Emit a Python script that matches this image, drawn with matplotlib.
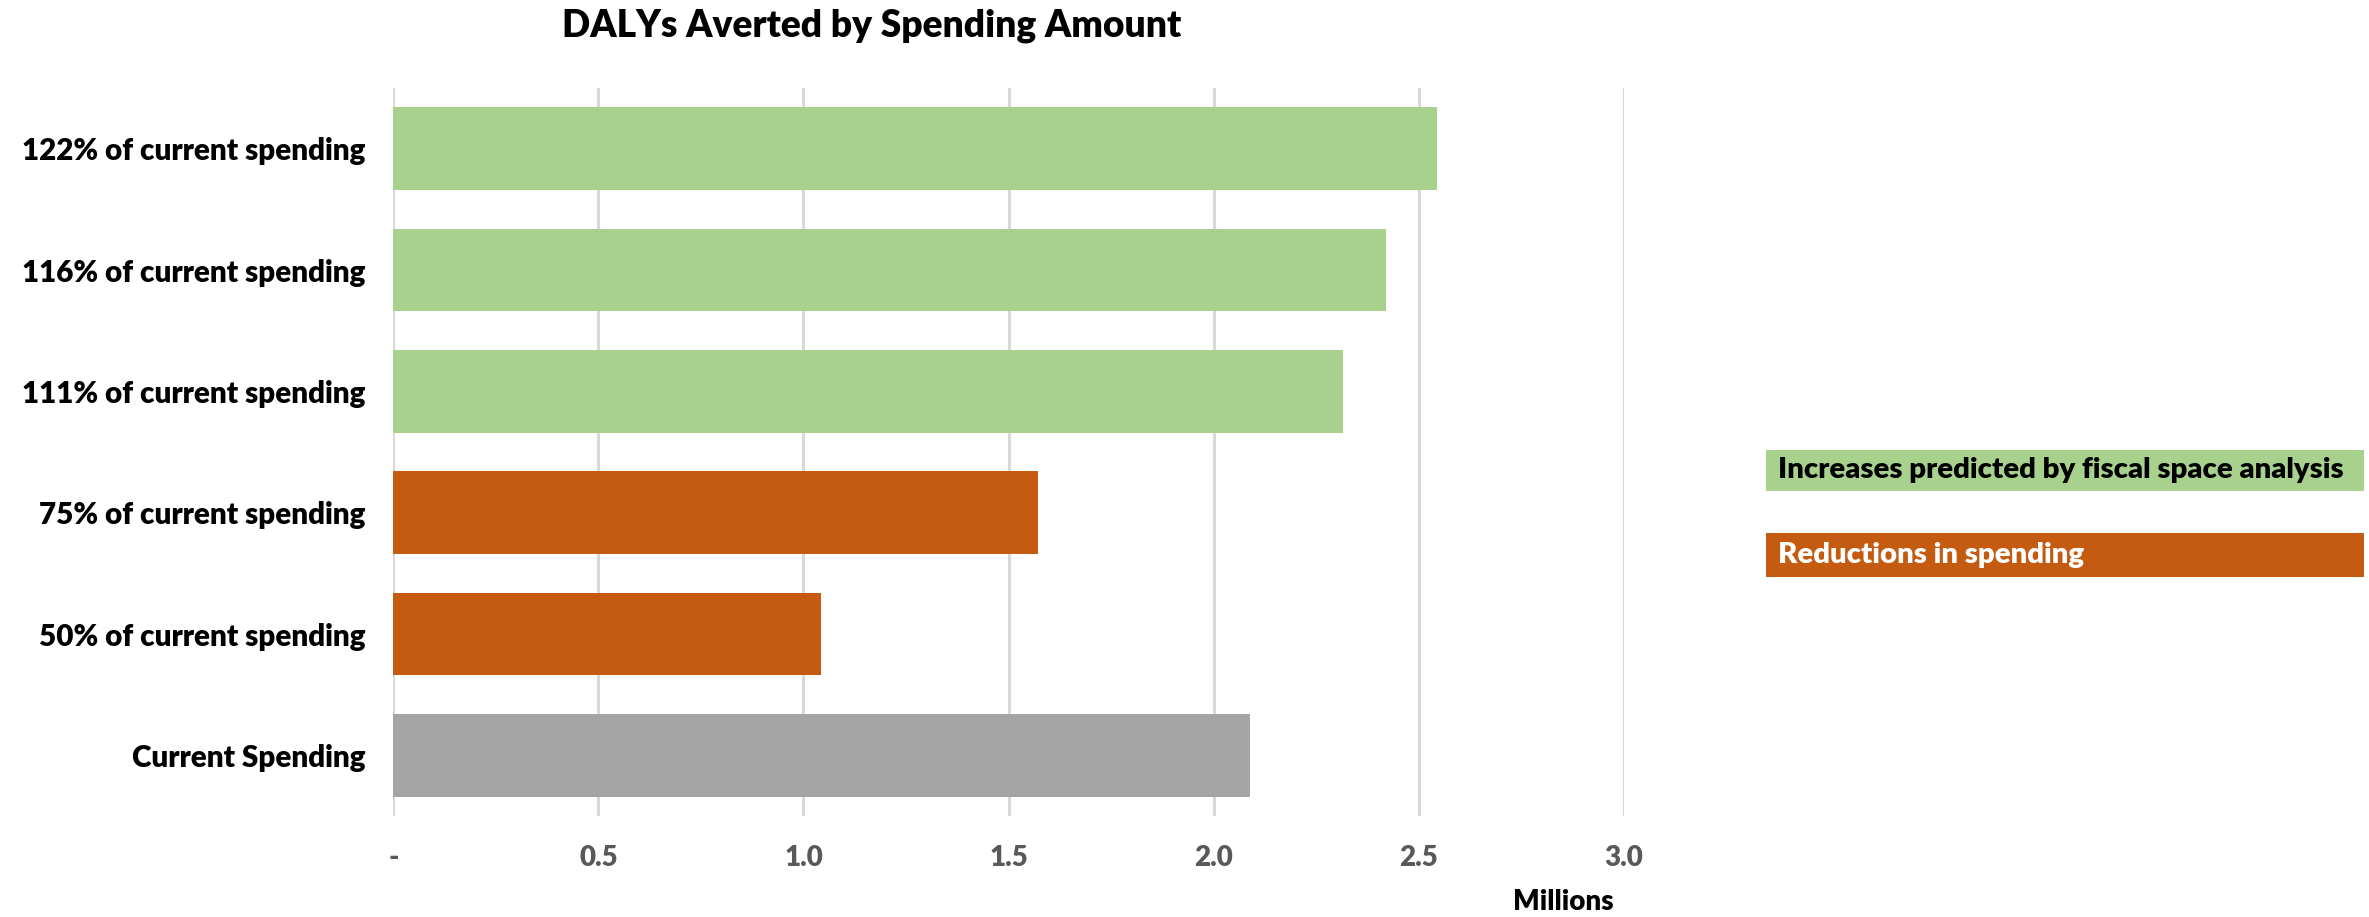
import matplotlib
matplotlib.use('Agg')
import matplotlib.pyplot as plt
from matplotlib.patches import Rectangle

plt.rcParams['font.family'] = ['Lato', 'DejaVu Sans']
plt.rcParams['font.weight'] = 'bold'

# dane
etykiety = ['Current Spending', '50% of current spending', '75% of current spending',
            '111% of current spending', '116% of current spending', '122% of current spending']
wartosci = [2.088, 1.042, 1.572, 2.316, 2.42, 2.544]
grupy = ['current', 'reduce', 'reduce', 'increase', 'increase', 'increase']
kolory = {'current': '#A5A5A5', 'reduce': '#C55A11', 'increase': '#A9D18E'}
xticks = [0, 0.5, 1.0, 1.5, 2.0, 2.5, 3.0]
xtick_labels = ['-', '0.5', '1.0', '1.5', '2.0', '2.5', '3.0']
legenda = [('Increases predicted by fiscal space analysis', 'increase', 'black'),
           ('Reductions in spending', 'reduce', 'white')]

waga = 'heavy'

fig = plt.figure(figsize=(23.69, 9.17), dpi=100)
ax = fig.add_axes([0.166, 0.110, 0.5195, 0.794])

ax.barh(range(len(wartosci)), wartosci, height=0.68,
        color=[kolory[g] for g in grupy], zorder=3)

ax.set_xlim(0, 3.0)
ax.set_ylim(-0.5, len(wartosci) - 0.5)
ax.set_xticks(xticks)
ax.set_xticklabels(xtick_labels, color='#595959', fontsize=20, fontweight=waga)
ax.set_yticks(range(len(etykiety)))
ax.set_yticklabels(etykiety, fontsize=21.3, fontweight=waga)
ax.tick_params(axis='both', length=0)
ax.tick_params(axis='y', pad=20)
ax.tick_params(axis='x', pad=21)
ax.grid(axis='x', color='#D9D9D9', linewidth=2.2, zorder=0)
for s in ax.spines.values():
    s.set_visible(False)

fig.text(0.368, 0.972, 'DALYs Averted by Spending Amount', ha='center', va='center',
         fontsize=26.7, fontweight=waga)
fig.text(0.660, 0.016, 'Millions', ha='center', va='center', fontsize=20, fontweight=waga)

# legenda jako kolorowe pola
y_pola = [0.4646, 0.3708]
wys_pola = [0.0447, 0.048]
for (tekst, g, kol_txt), y, h in zip(legenda, y_pola, wys_pola):
    fig.patches.append(Rectangle((0.7455, y), 0.2525, h, transform=fig.transFigure,
                                 facecolor=kolory[g], edgecolor='none'))
    fig.text(0.7505, y + h / 2, tekst, ha='left', va='center', fontsize=21.2,
             fontweight=waga, color=kol_txt)

fig.savefig('out.png', dpi=100)
